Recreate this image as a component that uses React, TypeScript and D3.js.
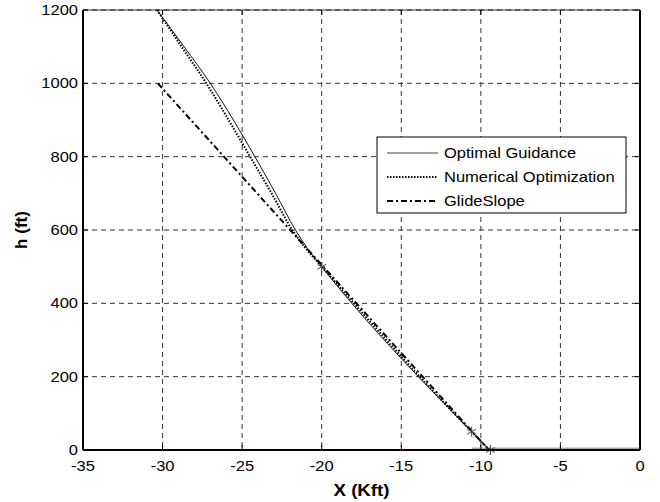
import { useEffect, useRef } from 'react';
import * as d3 from 'd3';

const xTicks = [-35, -30, -25, -20, -15, -10, -5, 0];
const yTicks = [0, 200, 400, 600, 800, 1000, 1200];

const optimalX = [-30.35, -28.65, -27.0, -25.55, -24.2, -22.9, -21.65, -20.9, -20.0, -10.58, -9.45];
const optimalH = [1200, 1100, 1000, 900, 800, 700, 600, 550, 500, 50, 0];

const numericalX = [-30.35, -28.8, -27.25, -25.85, -24.5, -23.15, -21.85, -21.0, -20.0, -10.58, -9.45];
const numericalH = [1200, 1100, 1000, 900, 800, 700, 600, 550, 500, 50, 0];

const glideX = [-30.3, -9.5];
const glideH = [1000, 0];

const starX = [-20, -10.58, -9.4];
const starH = [500, 50, 0];

const runwayX = [-10.58, 0];
const runwayH = [0, 0];

const legendLabels = ['Optimal Guidance', 'Numerical Optimization', 'GlideSlope'];

const W = 660;
const H = 502;

const App = () => {
    const svgRef = useRef<SVGSVGElement>(null);

    useEffect(() => {
        const svg = d3.select(svgRef.current);
        svg.selectAll('*').remove();

        const margin = { top: 10, right: 20, bottom: 52, left: 83 };
        const width = W - margin.left - margin.right;
        const height = H - margin.top - margin.bottom;
        const font = 'Liberation Sans, Arial, Helvetica, sans-serif';
        const sx = 1.18; // the reference text is a little wide

        const x = d3.scaleLinear().domain([-35, 0]).range([0, width]);
        const y = d3.scaleLinear().domain([0, 1200]).range([height, 0]);

        const g = svg.append('g').attr('transform', `translate(${margin.left},${margin.top})`);

        g.append('rect').attr('width', width).attr('height', height).attr('fill', 'white');

        // grid
        g.selectAll('.vgrid').data(xTicks).enter().append('line')
            .attr('x1', d => x(d)).attr('x2', d => x(d))
            .attr('y1', 0).attr('y2', height)
            .attr('stroke', '#333').attr('stroke-width', 1).attr('stroke-dasharray', '5,4');
        g.selectAll('.hgrid').data(yTicks).enter().append('line')
            .attr('y1', d => y(d)).attr('y2', d => y(d))
            .attr('x1', 0).attr('x2', width)
            .attr('stroke', '#333').attr('stroke-width', 1).attr('stroke-dasharray', '5,4');

        // runway
        const runway = runwayX.map((v, i) => [v, runwayH[i]] as [number, number]);
        g.append('path')
            .attr('d', d3.line().x(d => x(d[0])).y(d => y(d[1]) - 1)(runway))
            .attr('stroke', '#aaa').attr('stroke-width', 3).attr('fill', 'none');

        const line = d3.line<[number, number]>()
            .x(d => x(d[0])).y(d => y(d[1]))
            .curve(d3.curveMonotoneX);

        const glide = glideX.map((v, i) => [v, glideH[i]] as [number, number]);
        g.append('path').attr('d', line(glide))
            .attr('stroke', '#000').attr('stroke-width', 2).attr('fill', 'none')
            .attr('stroke-dasharray', '6,3,2,3');

        const numerical = numericalX.map((v, i) => [v, numericalH[i]] as [number, number]);
        g.append('path').attr('d', line(numerical))
            .attr('stroke', '#000').attr('stroke-width', 2).attr('fill', 'none')
            .attr('stroke-dasharray', '1.5,1.5');

        const optimal = optimalX.map((v, i) => [v, optimalH[i]] as [number, number]);
        g.append('path').attr('d', line(optimal))
            .attr('stroke', '#111').attr('stroke-width', 1).attr('fill', 'none');

        // star markers
        const starSym = d3.symbol().type(d3.symbolAsterisk).size(70);
        g.selectAll('.star').data(starX.map((v, i) => [v, starH[i]])).enter().append('path')
            .attr('transform', d => `translate(${x(d[0])},${y(d[1])})`)
            .attr('d', starSym())
            .attr('stroke', '#444').attr('stroke-width', 1).attr('fill', 'none');

        // axes box
        g.append('line').attr('x1', 0).attr('x2', width).attr('y1', height).attr('y2', height)
            .attr('stroke', '#000').attr('stroke-width', 2);
        g.append('line').attr('x1', 0).attr('x2', 0).attr('y1', 0).attr('y2', height)
            .attr('stroke', '#000').attr('stroke-width', 2);
        g.append('line').attr('x1', 0).attr('x2', width).attr('y1', 0).attr('y2', 0)
            .attr('stroke', '#000').attr('stroke-width', 0.8);
        g.append('line').attr('x1', width).attr('x2', width).attr('y1', 0).attr('y2', height)
            .attr('stroke', '#000').attr('stroke-width', 2);

        // ticks inward on all sides
        const tl = 5;
        xTicks.forEach(t => {
            g.append('line').attr('x1', x(t)).attr('x2', x(t)).attr('y1', height).attr('y2', height - tl)
                .attr('stroke', '#000').attr('stroke-width', 1);
            g.append('line').attr('x1', x(t)).attr('x2', x(t)).attr('y1', 0).attr('y2', tl)
                .attr('stroke', '#000').attr('stroke-width', 1);
        });
        yTicks.forEach(t => {
            g.append('line').attr('x1', 0).attr('x2', tl).attr('y1', y(t)).attr('y2', y(t))
                .attr('stroke', '#000').attr('stroke-width', 1);
            g.append('line').attr('x1', width).attr('x2', width - tl).attr('y1', y(t)).attr('y2', y(t))
                .attr('stroke', '#000').attr('stroke-width', 1);
        });

        // tick labels
        g.selectAll('.xlab').data(xTicks).enter().append('text')
            .attr('transform', d => `translate(${x(d)},${height + 21}) scale(${sx},1)`)
            .attr('text-anchor', 'middle').attr('font-family', font).attr('font-size', 14)
            .text(d => d);
        g.selectAll('.ylab').data(yTicks).enter().append('text')
            .attr('transform', d => `translate(-5,${y(d)}) scale(${sx},1)`)
            .attr('dy', '0.35em')
            .attr('text-anchor', 'end').attr('font-family', font).attr('font-size', 14)
            .text(d => d);

        // axis titles
        g.append('text')
            .attr('transform', `translate(${width / 2},${height + 46}) scale(1.1,1)`)
            .attr('text-anchor', 'middle').attr('font-family', font).attr('font-size', 17)
            .attr('font-weight', 'bold').text('X (Kft)');
        g.append('text')
            .attr('transform', `translate(${-56},${height / 2}) rotate(-90)`)
            .attr('text-anchor', 'middle').attr('font-family', font).attr('font-size', 17)
            .attr('font-weight', 'bold').text('h (ft)');

        // legend
        const lx = 377 - margin.left;
        const ly = 137 - margin.top;
        const legend = g.append('g').attr('transform', `translate(${lx},${ly})`);
        legend.append('rect').attr('width', 249).attr('height', 76)
            .attr('fill', 'white').attr('stroke', '#000').attr('stroke-width', 1);
        const styles = [
            { w: 1, dash: null, color: '#444' },
            { w: 2, dash: '1.5,1.5', color: '#000' },
            { w: 2, dash: '6,3,2,3', color: '#000' },
        ];
        legendLabels.forEach((lab, i) => {
            const yy = 16 + i * 24;
            const ln = legend.append('line').attr('x1', 10).attr('x2', 61).attr('y1', yy).attr('y2', yy)
                .attr('stroke', styles[i].color).attr('stroke-width', styles[i].w);
            if (styles[i].dash) ln.attr('stroke-dasharray', styles[i].dash);
            legend.append('text')
                .attr('transform', `translate(67,${yy}) scale(${sx},1)`)
                .attr('dy', '0.35em')
                .attr('font-family', font).attr('font-size', 14).text(lab);
        });
    }, []);

    return (
        <svg ref={svgRef} width={W} height={H}
            style={{ position: 'absolute', left: 0, top: 0, background: 'white' }} />
    );
};

export default App;
